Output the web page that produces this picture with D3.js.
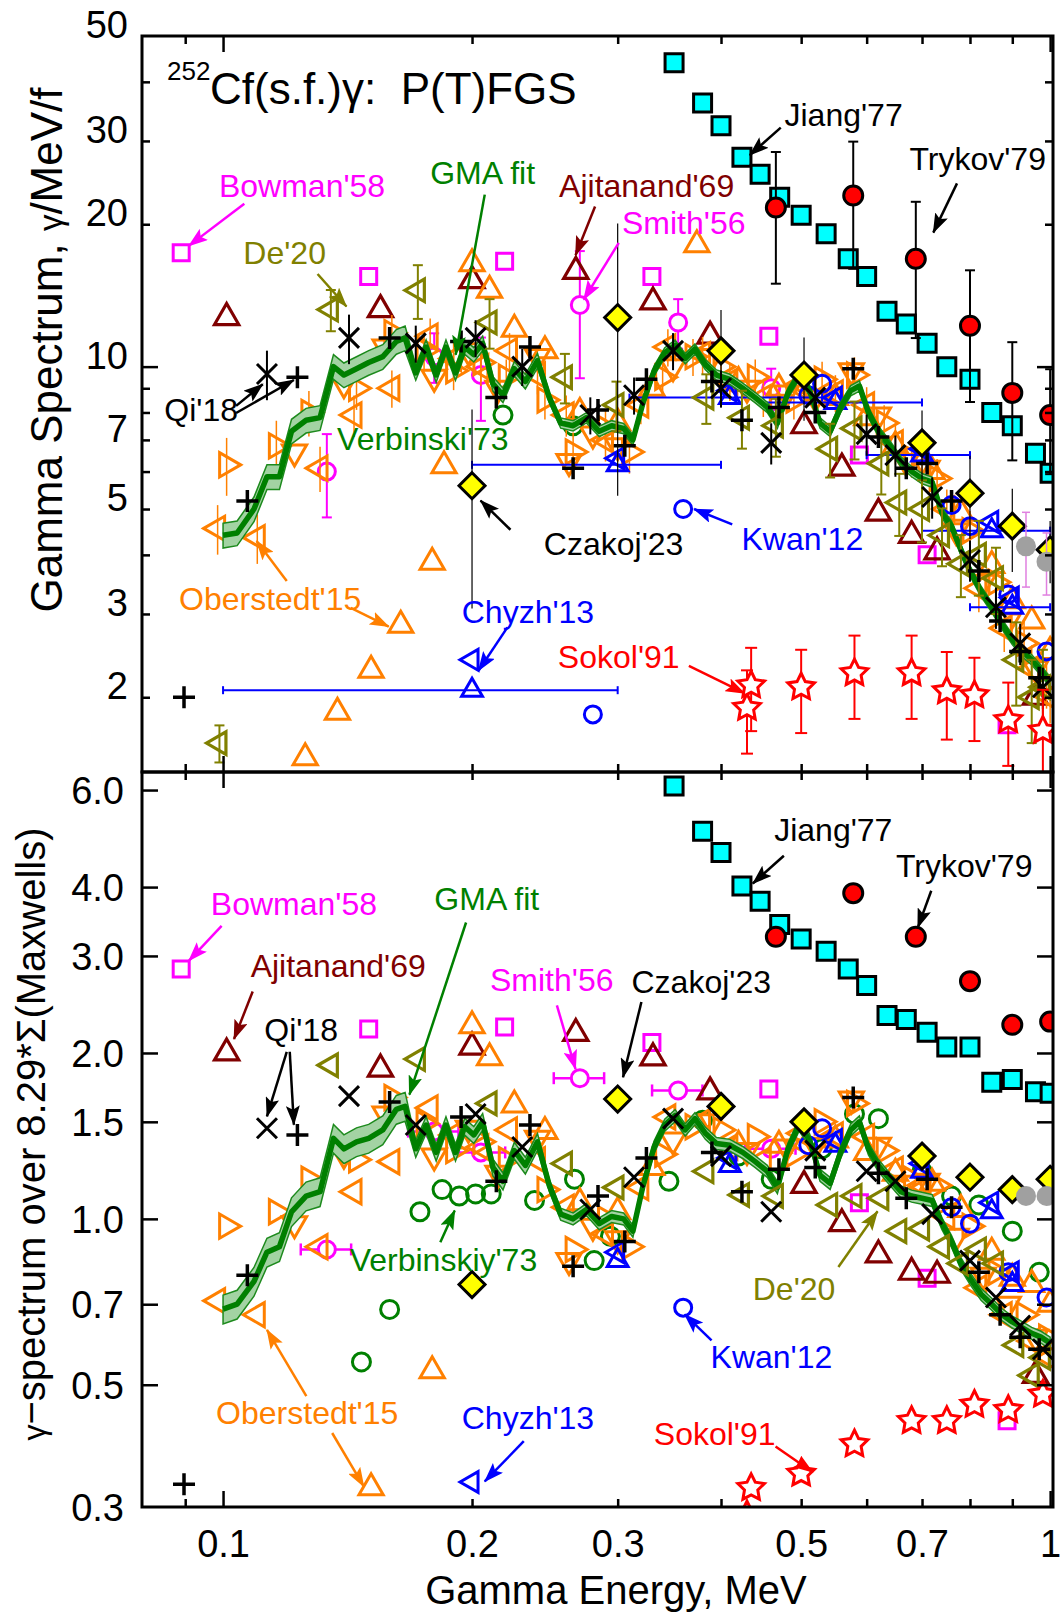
<!DOCTYPE html>
<html><head><meta charset="utf-8">
<script src="https://cdn.jsdelivr.net/npm/d3@7"></script>
<style>
html,body{margin:0;padding:0;background:#fff;}
svg{display:block;font-family:"Liberation Sans",Arial,Helvetica,sans-serif;}
</style></head><body>
<svg id="chart" width="1062" height="1616"></svg>
<script>
// ---------- GMA evaluation (line + uncertainty band) ----------
const gmaE = [0.100,0.104,0.109,0.113,0.117,0.121,0.126,0.131,0.136,0.140,0.145,0.150,0.156,0.162,0.166,0.171,0.176,0.181,0.186,0.191,0.196,0.201,0.206,0.212,0.218,0.225,0.232,0.240,0.248,0.256,0.265,0.275,0.285,0.295,0.305,0.313,0.322,0.332,0.342,0.352,0.362,0.372,0.383,0.395,0.410,0.425,0.440,0.455,0.468,0.482,0.497,0.512,0.527,0.542,0.558,0.574,0.588,0.603,0.620,0.640,0.660,0.680,0.700,0.720,0.740,0.760,0.780,0.800,0.825,0.850,0.875,0.900,0.925,0.950,0.975,1.000];
const gmaTop = [4.40,4.45,5.00,5.85,5.85,7.30,7.70,7.80,10.0,9.6,9.9,10.2,10.5,11.3,11.5,9.7,11.0,9.6,11.0,9.7,11.0,10.6,11.2,9.2,8.7,9.9,9.3,10.3,8.6,7.6,7.5,7.8,7.3,7.5,7.4,7.0,8.4,9.8,10.7,11.1,10.4,10.9,10.1,9.6,9.4,9.0,8.6,8.2,7.6,8.8,9.6,8.9,7.6,7.3,8.2,8.9,9.1,8.0,7.3,6.8,6.3,6.0,5.8,5.7,4.9,4.6,4.1,3.7,3.35,3.1,2.85,2.65,2.5,2.4,2.28,2.15];
const gmaBot = [0.686,0.70,0.77,0.87,0.89,1.03,1.10,1.12,1.40,1.34,1.38,1.40,1.45,1.58,1.60,1.34,1.48,1.32,1.48,1.32,1.47,1.42,1.50,1.24,1.17,1.33,1.25,1.38,1.15,1.02,1.00,1.04,0.98,1.01,1.00,0.95,1.15,1.35,1.48,1.54,1.45,1.52,1.43,1.37,1.36,1.32,1.27,1.22,1.14,1.34,1.48,1.39,1.20,1.16,1.32,1.45,1.50,1.34,1.25,1.18,1.12,1.10,1.09,1.08,0.98,0.91,0.83,0.78,0.73,0.70,0.67,0.65,0.635,0.62,0.61,0.595];
const gmaUnc = [0.06,0.06,0.06,0.06,0.06,0.06,0.06,0.06,0.06,0.06,0.06,0.06,0.06,0.06,0.06,0.035,0.035,0.035,0.035,0.035,0.035,0.035,0.035,0.035,0.035,0.035,0.035,0.035,0.025,0.025,0.025,0.025,0.025,0.025,0.025,0.025,0.025,0.025,0.025,0.025,0.025,0.025,0.025,0.025,0.025,0.025,0.025,0.025,0.025,0.025,0.025,0.025,0.025,0.025,0.025,0.025,0.025,0.025,0.025,0.025,0.025,0.025,0.025,0.025,0.025,0.025,0.025,0.025,0.025,0.025,0.025,0.025,0.025,0.025,0.025,0.025];

// ---------- measurements ----------
const bowmanE = [0.089,0.150,0.219,0.330,0.457,0.588,0.710,0.887];
const bowmanTop = [17.4,15.5,16.7,15.5,11.6,6.5,4.0,1.75];
const bowmanBot = [2.84,2.21,2.23,2.09,1.72,1.07,0.78,0.43];

const smithE = [0.1335,0.180,0.205,0.270,0.355,0.460];
const smithTop = [6.0,10.5,9.6,13.5,12.4,9.0];
const smithBot = [0.88,1.44,1.32,1.80,1.71,1.34];
const smithTopUnc = [0.20,0.12,0.20,0.30,0.12,0.10];
const smithEUnc = [0.07,0.07,0.07,0.07,0.07,0.07];

const ajitE = [0.101,0.155,0.200,0.267,0.331,0.388,0.504,0.560,0.620,0.680,0.730,0.960];
const ajitTop = [12.7,13.2,15.2,15.9,13.7,11.6,7.5,6.1,4.9,4.4,4.06,2.0];
const ajitBot = [2.0,1.87,2.05,2.17,1.96,1.70,1.15,0.98,0.86,0.80,0.79,0.52];

const deE = [0.099,0.135,0.172,0.210,0.259,0.299,0.384,0.424,0.466,0.542,0.580,0.625,0.657,0.700,0.740,0.780,0.820,0.860,0.910,0.950,0.980];
const deTop = [1.6,13.2,14.5,12.4,9.5,8.3,8.6,7.8,7.5,6.7,7.4,6.24,5.16,5.0,4.4,3.83,4.0,3.57,2.4,2.0,2.1];
const deBot = [0.25,1.90,1.95,1.62,1.26,1.14,1.22,1.105,1.10,1.06,1.10,1.09,0.95,0.96,0.89,0.83,0.88,0.83,0.59,0.52,0.56];
const deUnc = [0.09,0.10,0.13,0.12,0.12,0.12,0.12,0.14,0.14,0.13,0.14,0.14,0.15,0.15,0.14,0.15,0.18,0.16,0.20,0.20,0.20];

const jiangE = [0.351,0.380,0.400,0.424,0.446,0.471,0.500,0.536,0.570,0.600,0.635,0.670,0.710,0.750,0.800,0.850,0.900,0.960,1.000];
const jiangTop = [43.9,36.1,32.3,27.7,25.5,22.8,20.9,19.1,16.9,15.5,13.1,12.3,11.2,10.0,9.4,8.0,7.5,6.56,5.95];
const jiangBot = [6.1,5.05,4.62,4.02,3.77,3.42,3.22,3.06,2.84,2.65,2.34,2.30,2.18,2.05,2.05,1.77,1.79,1.70,1.69];

const trykovE = [0.466,0.578,0.688,0.800,0.900,1.000];
const trykovTop = [21.7,23.0,16.9,12.2,8.8,7.9];
const trykovBot = [3.25,3.90,3.25,2.70,2.25,2.28];
const trykovUnc = [0.31,0.30,0.32,0.31,0.28,0.25];

const czakojE = [0.200,0.300,0.400,0.504,0.700,0.800,0.900,1.000];
const czakojTop = [5.6,12.7,10.8,9.6,6.9,5.4,4.6,4.1];
const czakojBot = [0.76,1.65,1.60,1.50,1.30,1.19,1.13,1.18];
const czakojUnc = [0.45,0.58,0.22,0.20,0.17,0.20,0.20,0.15];

const sokolE = [0.430,0.435,0.500,0.580,0.680,0.750,0.810,0.890,0.980];
const sokolTop = [1.90,2.12,2.10,2.25,2.25,2.06,2.02,1.79,1.70];
const sokolBot = [0.29,0.325,0.345,0.39,0.43,0.43,0.46,0.45,0.48];
const sokolUnc = [0.20,0.20,0.20,0.20,0.20,0.21,0.20,0.20,0.22];

const kwanE = [0.28,0.36,0.51,0.53,0.76,0.80,0.89,0.99];
const kwanTop = [1.84,5.0,8.7,9.2,5.1,4.6,3.3,2.5];
const kwanBot = [0.26,0.69,1.36,1.46,1.05,0.98,0.80,0.72];

const chyzhE = [0.20,0.30,0.41,0.55,0.70,0.85,0.90];
const chyzhELo = [0.10,0.20,0.31,0.45,0.60,0.70,0.80];
const chyzhEHi = [0.30,0.40,0.53,0.70,0.80,1.00,1.00];
const chyzhUpTop = [2.07,6.2,8.6,8.4,6.5,4.5,3.1];
const chyzhUpBot = [0.28,0.84,1.25,1.36,1.22,1.03,0.76];
const chyzhLeftTop = [2.4,6.4,8.9,8.6,6.7,4.7,3.25];
const chyzhLeftBot = [0.333,0.87,1.29,1.39,1.26,1.07,0.80];

const verbTopE = [0.218,0.265];
const verbTop = [7.9,7.5];
const verbBotE = [0.147,0.159,0.173,0.184,0.193,0.202,0.211,0.238,0.266,0.281,0.294,0.346,0.380,0.420,0.460,0.530,0.580,0.620,0.700,0.760,0.820,0.900,0.970];
const verbBot = [0.55,0.685,1.03,1.13,1.10,1.11,1.11,1.08,1.18,0.84,0.93,1.17,1.51,1.30,1.18,1.34,1.55,1.52,1.22,1.10,1.06,0.95,0.80];

const qiXE = [0.113,0.142,0.171,0.202,0.230,0.278,0.314,0.350,0.400,0.460,0.520,0.600,0.650,0.720,0.800,0.860,0.920,0.980];
const qiXTop = [9.65,11.5,11.2,11.5,10.0,7.9,8.7,10.8,9.0,6.9,8.6,7.2,6.5,5.3,3.9,3.1,2.6,2.1];
const qiXBot = [1.46,1.67,1.48,1.55,1.35,1.04,1.19,1.52,1.30,1.03,1.33,1.22,1.17,1.02,0.84,0.72,0.64,0.58];
const qiXUnc = [0.12,0.12,0.09,0.09,0.09,0.09,0.09,0.09,0.09,0.10,0.10,0.10,0.10,0.10,0.10,0.10,0.10,0.10];

const qiPE = [0.0897,0.107,0.123,0.159,0.194,0.214,0.235,0.265,0.284,0.306,0.325,0.390,0.424,0.470,0.520,0.578,0.620,0.670,0.710,0.760,0.820,0.870,0.920,0.970];
const qiPTop = [2.0,5.2,9.5,11.5,11.3,8.6,11.0,6.1,8.1,6.8,9.4,9.3,7.7,8.2,8.0,9.9,7.1,6.1,6.24,5.2,3.7,2.9,2.5,2.2];
const qiPBot = [0.33,0.79,1.42,1.63,1.53,1.17,1.48,0.82,1.10,0.91,1.29,1.32,1.12,1.23,1.24,1.66,1.21,1.09,1.18,1.05,0.80,0.67,0.61,0.58];

const oberUpE = [0.1257,0.1375,0.151,0.164,0.179,0.185,0.200,0.210,0.225,0.245,0.270,0.300,0.330,0.374,0.420,0.470,0.550,0.600,0.650,0.720,0.780,0.850,0.900,0.950,1.000];
const oberUpTop = [1.49,1.86,2.28,2.84,3.86,6.17,16.5,14.5,12.0,10.8,8.0,7.6,9.0,18.1,9.3,9.0,8.6,7.8,6.8,6.0,4.9,3.8,3.2,2.9,2.5];
const oberUpBot = [0.22,0.27,0.325,null,0.53,null,2.24,1.96,1.61,1.44,1.07,1.03,1.24,null,1.36,1.36,1.39,1.32,1.21,1.16,1.04,0.87,0.78,0.76,0.70];

const oberRightE = [0.101,0.116,0.127,0.145,0.160,0.175,0.190,0.205,0.220,0.245,0.265,0.290,0.310,0.340,0.370,0.400,0.440,0.490,0.530,0.580,0.630,0.680,0.730,0.800,0.860,0.930,0.990];
const oberRightTop = [6.2,6.8,8.0,9.0,11.8,10.8,9.8,10.2,9.5,8.5,6.6,7.4,6.6,9.5,10.5,10.0,9.5,8.5,9.4,9.6,7.6,6.4,5.8,4.5,3.5,2.6,2.15];
const oberRightBot = [0.97,1.03,1.18,1.28,1.66,1.49,1.33,1.38,1.28,1.13,0.88,1.00,0.89,1.31,1.47,1.45,1.41,1.31,1.50,1.62,1.33,1.18,1.15,0.97,0.80,0.67,0.61];
const oberRightUnc = [0.14,0.13,0.11,0.10,0.09,0.09,0.09,0.09,0.09,0.09,0.10,0.09,0.10,0.09,0.09,0.09,0.09,0.09,0.09,0.09,0.09,0.09,0.10,0.10,0.10,0.11,0.12];

const oberDownE = [0.122,0.140,0.157,0.180,0.198,0.215,0.240,0.262,0.280,0.300,0.350,0.390,0.430,0.480,0.520,0.575,0.620,0.670,0.710,0.770,0.830,0.890,0.960];
const oberDownTop = [6.6,9.2,11.0,9.5,10.8,9.0,10.5,6.3,7.2,6.8,10.0,10.5,9.0,8.8,8.6,9.8,7.9,6.3,6.1,4.5,3.5,2.9,2.3];
const oberDownBot = [0.98,1.31,1.55,1.30,1.46,1.21,1.40,0.84,0.97,0.92,1.39,1.50,1.33,1.35,1.36,1.65,1.36,1.16,1.17,0.93,0.79,0.70,0.61];

const oberLeftE = [0.0985,0.110,0.131,0.144,0.160,0.178,0.190,0.205,0.222,0.240,0.260,0.290,0.320,0.345,0.380,0.410,0.450,0.500,0.550,0.600,0.650,0.700,0.750,0.820,0.880,0.950,1.000];
const oberLeftTop = [4.55,4.35,6.1,7.9,9.0,11.6,10.4,10.0,10.8,9.6,7.9,7.0,8.3,11.0,10.6,9.3,8.6,9.2,8.8,8.3,6.9,6.1,5.0,3.4,2.8,2.3,2.0];
const oberLeftBot = [0.71,0.67,0.89,1.12,1.27,1.59,1.42,1.35,1.45,1.28,1.05,0.94,1.14,1.53,1.50,1.35,1.28,1.43,1.42,1.41,1.23,1.15,1.01,0.75,0.67,0.60,0.56];
const oberLeftUnc = [0.12,0.12,0.11,0.10,0.09,0.09,0.09,0.09,0.09,0.09,0.10,0.10,0.09,0.09,0.09,0.09,0.09,0.09,0.09,0.09,0.10,0.10,0.10,0.11,0.11,0.12,0.12];

const grayE = [0.935,0.990];
const grayTop = [4.17,3.87];
const grayBot = [1.10,1.10];
const grayUnc = [0.18,0.15];

// axis ticks
const xMajor = [0.1,1.0];
const xMinor = [0.09,0.2,0.3,0.4,0.5,0.6,0.7,0.8,0.9];
const xLabels = [0.1,0.2,0.3,0.5,0.7,1.0];
const yTopMajor = [10];
const yTopMinor = [2,3,4,5,6,7,8,9,20,30,40];
const yTopLabels = [2,3,5,7,10,20,30,50];
const yBotTicks = [0.5,0.7,1.0,1.5,2.0,3.0,4.0,6.0];
const yBotLabels = [0.3,0.5,0.7,1.0,1.5,2.0,3.0,4.0,6.0];

// ---------- colours ----------
const MAG='#ff00ff', OLV='#808000', DRD='#800000', GRN='#008000', CYA='#00ffff',
      RED='#ff0000', ORG='#ff8000', YEL='#ffff00', BLU='#0000ff', BLK='#000000', GRY='#a0a0a0';

// ---------- annotations (data coordinates) ----------
const topNotes = [
 {t:"Bowman'58", c:MAG, e:0.1246, v:24.1, a:[[0.1061,22.1,0.0909,18.0]]},
 {t:"De'20", c:OLV, e:0.1187, v:17.4, a:[[0.1301,15.7,0.1410,13.4]]},
 {t:"GMA fit", c:GRN, e:0.206, v:25.7, a:[[0.2072,23.1,0.1911,10.6]]},
 {t:"Ajitanand'69", c:DRD, e:0.3252, v:24.1, a:[[0.2817,21.8,0.2668,17.2]]},
 {t:"Smith'56", c:MAG, e:0.3606, v:20.2, a:[[0.3009,18.26,0.2729,13.86]]},
 {t:"Jiang'77", c:BLK, e:0.5627, v:34.2, a:[[0.4724,32.0,0.4333,28.0]]},
 {t:"Trykov'79", c:BLK, e:0.8173, v:27.6, a:[[0.7716,24.4,0.7223,19.2]]},
 {t:"Qi'18", c:BLK, e:0.0941, v:8.1, a:[[0.1037,8.26,0.1117,9.18],[0.1037,7.98,0.1218,9.37]]},
 {t:"Verbinski'73", c:GRN, e:0.1744, v:7.04, a:[]},
 {t:"Czakoj'23", c:BLK, e:0.2966, v:4.22, a:[[0.2226,4.52,0.2048,5.21]]},
 {t:"Kwan'12", c:BLU, e:0.5016, v:4.33, a:[[0.4127,4.64,0.3711,5.0]]},
 {t:"Oberstedt'15", c:ORG, e:0.1140, v:3.23, a:[[0.1194,3.52,0.1098,4.28],[0.1427,3.09,0.1586,2.82]]},
 {t:"Chyzh'13", c:BLU, e:0.2337, v:3.03, a:[[0.2207,2.81,0.2036,2.275]]},
 {t:"Sokol'91", c:RED, e:0.3009, v:2.44, a:[[0.3658,2.33,0.4271,2.04]]}
];
const botNotes = [
 {t:"Bowman'58", c:MAG, e:0.1218, v:3.73, a:[[0.0996,3.40,0.0909,2.94]]},
 {t:"GMA fit", c:GRN, e:0.2084, v:3.81, a:[[0.1967,3.45,0.168,1.68]]},
 {t:"Ajitanand'69", c:DRD, e:0.1378, v:2.88, a:[[0.1086,2.585,0.1031,2.12]]},
 {t:"Qi'18", c:BLK, e:0.1243, v:2.21, a:[[0.1194,2.01,0.113,1.534],[0.1204,2.01,0.1218,1.482]]},
 {t:"Smith'56", c:MAG, e:0.2497, v:2.72, a:[[0.2533,2.44,0.2668,1.87]]},
 {t:"Czakoj'23", c:BLK, e:0.3786, v:2.70, a:[[0.3205,2.475,0.3045,1.807]]},
 {t:"Jiang'77", c:BLK, e:0.5468, v:5.08, a:[[0.4765,4.56,0.4370,4.06]]},
 {t:"Trykov'79", c:BLK, e:0.7872, v:4.37, a:[[0.7182,3.94,0.6918,3.376]]},
 {t:"Verbinskiy'73", c:GRN, e:0.1847, v:0.843, a:[[0.1831,0.907,0.1906,1.036]]},
 {t:"Oberstedt'15", c:ORG, e:0.1264, v:0.4454, a:[[0.1261,0.477,0.113,0.629],[0.1355,0.4087,0.148,0.3266]]},
 {t:"Chyzh'13", c:BLU, e:0.2337, v:0.4359, a:[[0.231,0.3949,0.2072,0.3338]]},
 {t:"Kwan'12", c:BLU, e:0.4603, v:0.5622, a:[[0.3896,0.602,0.3615,0.6707]]},
 {t:"Sokol'91", c:RED, e:0.3930, v:0.4087, a:[[0.4656,0.3864,0.5163,0.347]]},
 {t:"De'20", c:OLV, e:0.4902, v:0.7469, a:[[0.5546,0.8176,0.6185,1.032]]}
];

// ---------- layout ----------
const svg = d3.select('#chart');
const X0 = 142, X1 = 1053, YT = 36, YM = 772, YB = 1507;
const x = d3.scaleLog().domain([0.0798, 1.008]).range([X0, X1]);
const yTop = d3.scaleLog().domain([1.39, 50]).range([YM, YT]);
const yBot = d3.scaleLog().domain([0.3, 6.47]).range([YB, YM]);

// marker shapes (size = radius in px)
const tri = (a) => ({draw(c, r) {
  for (let k = 0; k < 3; k++) {
    const t = a + k * 2 * Math.PI / 3;
    const px = r * Math.cos(t), py = r * Math.sin(t);
    if (k === 0) c.moveTo(px, py); else c.lineTo(px, py);
  }
  c.closePath();
}});
const sym = {
  square: {draw(c, r) { c.rect(-r, -r, 2 * r, 2 * r); }},
  circle: {draw(c, r) { c.moveTo(r, 0); c.arc(0, 0, r, 0, 2 * Math.PI); }},
  diamond: {draw(c, r) { c.moveTo(0, -r); c.lineTo(r, 0); c.lineTo(0, r); c.lineTo(-r, 0); c.closePath(); }},
  triUp: tri(-Math.PI / 2), triDown: tri(Math.PI / 2), triLeft: tri(Math.PI), triRight: tri(0),
  star: {draw(c, r) {
    for (let k = 0; k < 10; k++) {
      const rr = k % 2 === 0 ? r : r * 0.5;
      const t = -Math.PI / 2 + k * Math.PI / 5;
      if (k === 0) c.moveTo(rr * Math.cos(t), rr * Math.sin(t)); else c.lineTo(rr * Math.cos(t), rr * Math.sin(t));
    }
    c.closePath();
  }},
  plus: {draw(c, r) { c.moveTo(-r, 0); c.lineTo(r, 0); c.moveTo(0, -r); c.lineTo(0, r); }},
  cross: {draw(c, r) { c.moveTo(-r, -r); c.lineTo(r, r); c.moveTo(-r, r); c.lineTo(r, -r); }}
};

function makePanel(yScale, id, y0, y1) {
  svg.append('clipPath').attr('id', id).append('rect')
    .attr('x', X0).attr('y', y0).attr('width', X1 - X0).attr('height', y1 - y0);
  return {y: yScale, g: svg.append('g').attr('clip-path', `url(#${id})`)};
}
const P1 = makePanel(yTop, 'clipTop', YT, YM);
const P2 = makePanel(yBot, 'clipBot', YM, YB);

function zipv(E, V) { return E.map((e, i) => ({e, v: V[i], i})).filter(d => d.v != null); }

function points(P, E, V, shape, r, stroke, fill, sw) {
  P.g.append('g').selectAll('path').data(zipv(E, V)).join('path')
    .attr('transform', d => `translate(${x(d.e)},${P.y(d.v)})`)
    .attr('d', d3.symbol().type(sym[shape]).size(r))
    .attr('fill', fill).attr('stroke', stroke).attr('stroke-width', sw)
    .attr('stroke-linejoin', 'miter');
}
function errV(P, E, V, U, color, w, cap) {
  const g = P.g.append('g').attr('stroke', color).attr('stroke-width', w);
  zipv(E, V).forEach(d => {
    const u = U[d.i]; if (!u) return;
    const xx = x(d.e), ya = P.y(d.v * (1 + u)), yb = P.y(d.v * (1 - u));
    g.append('line').attr('x1', xx).attr('x2', xx).attr('y1', ya).attr('y2', yb);
    if (cap) {
      g.append('line').attr('x1', xx - cap).attr('x2', xx + cap).attr('y1', ya).attr('y2', ya);
      g.append('line').attr('x1', xx - cap).attr('x2', xx + cap).attr('y1', yb).attr('y2', yb);
    }
  });
}
function errH(P, E, V, lo, hi, color, w, cap) {
  const g = P.g.append('g').attr('stroke', color).attr('stroke-width', w);
  zipv(E, V).forEach(d => {
    const yy = P.y(d.v), xa = x(lo[d.i]), xb = x(hi[d.i]);
    g.append('line').attr('x1', xa).attr('x2', xb).attr('y1', yy).attr('y2', yy);
    g.append('line').attr('x1', xa).attr('x2', xa).attr('y1', yy - cap).attr('y2', yy + cap);
    g.append('line').attr('x1', xb).attr('x2', xb).attr('y1', yy - cap).attr('y2', yy + cap);
  });
}
function gma(P, V) {
  const data = gmaE.map((e, i) => ({e, v: V[i], u: gmaUnc[i]}));
  const area = d3.area().x(d => x(d.e)).y0(d => P.y(d.v * (1 - d.u))).y1(d => P.y(d.v * (1 + d.u)));
  P.g.append('path').datum(data).attr('d', area).attr('fill', '#a3d3a3').attr('stroke', '#1d8a1d').attr('stroke-width', 1.5);
  P.g.append('path').datum(data).attr('d', d3.line().x(d => x(d.e)).y(d => P.y(d.v)))
    .attr('fill', 'none').attr('stroke', GRN).attr('stroke-width', 5.5).attr('stroke-linejoin', 'round');
}

function drawPanel(P, top) {
  const pick = (a, b) => top ? a : b;
  points(P, bowmanE, pick(bowmanTop, bowmanBot), 'square', 8, MAG, 'none', 3);
  if (top) errV(P, smithE, smithTop, smithTopUnc, MAG, 2, 5);
  else errH(P, smithE, smithBot, smithE.map((e, i) => e * (1 - smithEUnc[i])), smithE.map((e, i) => e * (1 + smithEUnc[i])), MAG, 2.5, 6);
  points(P, smithE, pick(smithTop, smithBot), 'circle', 8.5, MAG, 'white', 3);
  points(P, ajitE, pick(ajitTop, ajitBot), 'triUp', 14, DRD, 'none', 3.2);
  if (top) points(P, verbTopE, verbTop, 'circle', 9, GRN, 'none', 3);
  else points(P, verbBotE, verbBot, 'circle', 9, GRN, 'none', 3);
  if (top) {
    errV(P, oberRightE, oberRightTop, oberRightUnc, ORG, 1.5, 0);
    errV(P, oberLeftE, oberLeftTop, oberLeftUnc, ORG, 1.5, 0);
  }
  points(P, oberUpE, pick(oberUpTop, oberUpBot), 'triUp', 14, ORG, 'none', 3);
  points(P, oberDownE, pick(oberDownTop, oberDownBot), 'triDown', 14, ORG, 'none', 3);
  points(P, oberRightE, pick(oberRightTop, oberRightBot), 'triRight', 14, ORG, 'none', 3);
  points(P, oberLeftE, pick(oberLeftTop, oberLeftBot), 'triLeft', 14, ORG, 'none', 3);
  if (top) errH(P, chyzhE, chyzhUpTop, chyzhELo, chyzhEHi, BLU, 2, 4);
  points(P, chyzhE, pick(chyzhUpTop, chyzhUpBot), 'triUp', 12, BLU, 'none', 3);
  points(P, chyzhE, pick(chyzhLeftTop, chyzhLeftBot), 'triLeft', 12, BLU, 'none', 3);
  points(P, kwanE, pick(kwanTop, kwanBot), 'circle', 8.5, BLU, 'none', 3);
  gma(P, pick(gmaTop, gmaBot));
  if (top) errV(P, deE, deTop, deUnc, OLV, 2, 5);
  points(P, deE, pick(deTop, deBot), 'triLeft', 13, OLV, 'none', 3.2);
  if (top) errV(P, qiXE, qiXTop, qiXUnc, BLK, 2, 0);
  points(P, qiXE, pick(qiXTop, qiXBot), 'cross', 10, BLK, 'none', 3);
  points(P, qiPE, pick(qiPTop, qiPBot), 'plus', 11, BLK, 'none', 3.5);
  if (top) errV(P, czakojE, czakojTop, czakojUnc, BLK, 1.2, 0);
  points(P, czakojE, pick(czakojTop, czakojBot), 'diamond', 13, BLK, YEL, 3);
  points(P, jiangE, pick(jiangTop, jiangBot), 'square', 9, BLK, CYA, 3);
  if (top) errV(P, trykovE, trykovTop, trykovUnc, BLK, 2, 5);
  points(P, trykovE, pick(trykovTop, trykovBot), 'circle', 9.5, BLK, RED, 3);
  if (top) errV(P, sokolE, sokolTop, sokolUnc, RED, 2, 6);
  points(P, sokolE, pick(sokolTop, sokolBot), 'star', 14, RED, 'white', 3);
  if (top) errV(P, grayE, grayTop, grayUnc, '#e080e0', 1.5, 4);
  points(P, grayE, pick(grayTop, grayBot), 'circle', 10, 'none', GRY, 0);
}
drawPanel(P1, true);
drawPanel(P2, false);

// ---------- frames and axes ----------
const frame = svg.append('g').attr('fill', 'none').attr('stroke', '#000').attr('stroke-width', 3);
frame.append('rect').attr('x', X0).attr('y', YT).attr('width', X1 - X0).attr('height', YM - YT);
frame.append('rect').attr('x', X0).attr('y', YM).attr('width', X1 - X0).attr('height', YB - YM);

function tickAxis(axisFn, scale, vals, len, tx, ty) {
  const g = svg.append('g').attr('transform', `translate(${tx},${ty})`)
    .call(axisFn(scale).tickValues(vals).tickSize(len).tickFormat(''));
  g.select('.domain').remove();
  g.selectAll('.tick line').attr('stroke', '#000').attr('stroke-width', 2.5);
  return g;
}
// horizontal axes: ticks point into the plotting areas
[[YT, d3.axisBottom], [YM, d3.axisTop], [YM, d3.axisBottom], [YB, d3.axisTop]].forEach(([yy, fn]) => {
  tickAxis(fn, x, xMajor, 16, 0, yy);
  tickAxis(fn, x, xMinor, 8, 0, yy);
});
// vertical axes
[[X0, d3.axisRight], [X1, d3.axisLeft]].forEach(([xx, fn]) => {
  tickAxis(fn, yTop, yTopMajor, 16, xx, 0);
  tickAxis(fn, yTop, yTopMinor, 8, xx, 0);
  tickAxis(fn, yBot, yBotTicks, 16, xx, 0);
});

function labelAxis(axisFn, scale, vals, fmt, tx, ty, fix) {
  const g = svg.append('g').attr('transform', `translate(${tx},${ty})`)
    .call(axisFn(scale).tickValues(vals).tickSize(0).tickFormat(fmt));
  g.select('.domain').remove();
  g.selectAll('.tick text').attr('fill', '#000').attr('font-size', 38)
    .attr('font-family', '"Liberation Sans",Arial,sans-serif').call(fix);
}
labelAxis(d3.axisBottom, x, xLabels, d => d === 1 ? '1' : d3.format('.1f')(d), 0, YB,
  s => s.attr('y', 50).attr('dy', 0));
labelAxis(d3.axisLeft, yTop, yTopLabels, d3.format('d'), X0, 0,
  s => s.attr('x', -14).attr('dy', '0.04em'));
labelAxis(d3.axisLeft, yBot, yBotLabels, d3.format('.1f'), X0, 0,
  s => s.attr('x', -18).attr('dy', '0.35em'));

// axis titles
svg.append('text').attr('x', 616).attr('y', 1604).attr('text-anchor', 'middle')
  .attr('font-size', 40).text('Gamma Energy, MeV');
const t1 = svg.append('text').attr('transform', 'translate(62,350) rotate(-90)')
  .attr('text-anchor', 'middle').attr('font-size', 44);
t1.append('tspan').text('Gamma Spectrum, ');
t1.append('tspan').attr('font-size', 33).text('γ');
t1.append('tspan').text('/MeV/f');
const t2 = svg.append('text').attr('transform', 'translate(45,1134) rotate(-90)')
  .attr('text-anchor', 'middle').attr('font-size', 40);
t2.append('tspan').attr('font-size', 32).text('γ');
t2.append('tspan').text('−spectrum over 8.29*Σ(Maxwells)');

// reaction title
svg.append('text').attr('x', 167).attr('y', 80).attr('font-size', 26).text('252');
svg.append('text').attr('x', 210).attr('y', 104).attr('font-size', 44)
  .attr('xml:space', 'preserve').text('Cf(s.f.)γ:  P(T)FGS');

// ---------- annotations ----------
const defs = svg.append('defs');
const colours = [MAG, OLV, GRN, DRD, BLK, BLU, ORG, RED];
colours.forEach((c, i) => {
  defs.append('marker').attr('id', 'ah' + i).attr('markerUnits', 'userSpaceOnUse')
    .attr('markerWidth', 20).attr('markerHeight', 14).attr('refX', 19).attr('refY', 7)
    .attr('orient', 'auto')
    .append('path').attr('d', 'M0,0 L20,7 L0,14 L4,7 Z').attr('fill', c);
});
function notes(list, yScale) {
  const g = svg.append('g');
  list.forEach(n => {
    n.a.forEach(a => {
      g.append('line').attr('x1', x(a[0])).attr('y1', yScale(a[1]))
        .attr('x2', x(a[2])).attr('y2', yScale(a[3]))
        .attr('stroke', n.c).attr('stroke-width', 2.5)
        .attr('marker-end', `url(#ah${colours.indexOf(n.c)})`);
    });
    g.append('text').attr('x', x(n.e)).attr('y', yScale(n.v)).attr('dy', '0.36em')
      .attr('text-anchor', 'middle').attr('font-size', 32).attr('fill', n.c).text(n.t);
  });
}
notes(topNotes, yTop);
notes(botNotes, yBot);
</script>
</body></html>
